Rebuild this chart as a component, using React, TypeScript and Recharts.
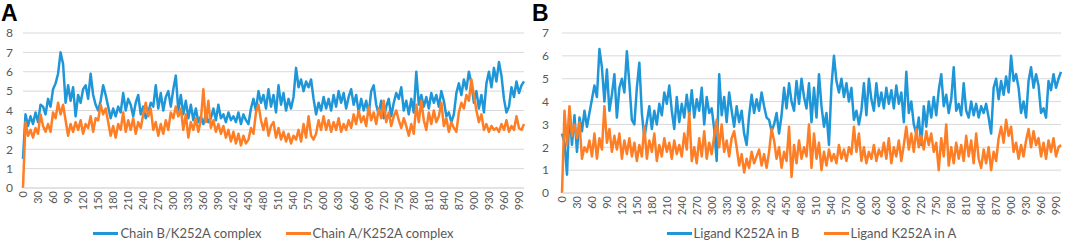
import React from 'react';
import { LineChart, Line, XAxis, YAxis, CartesianGrid } from 'recharts';

// time axis (ns), sampled every 5
const times: number[] = Array.from({ length: 201 }, (_, i) => i * 5);
const xTicks = [0, 30, 60, 90, 120, 150, 180, 210, 240, 270, 300, 330, 360, 390, 420, 450, 480, 510, 540, 570, 600, 630, 660, 690, 720, 750, 780, 810, 840, 870, 900, 930, 960, 990];
const yTicksA = [0, 1, 2, 3, 4, 5, 6, 7, 8];
const yTicksB = [0, 1, 2, 3, 4, 5, 6, 7];

const namesA = ['Chain B/K252A complex', 'Chain A/K252A complex'];
const namesB = ['Ligand K252A in B', 'Ligand K252A in A'];

const chainB = [
  1.5, 3.8, 3.2, 3.7, 3.3, 3.9, 3.4, 4.3, 4.2, 3.8,
  4.6, 4.2, 5.1, 5.4, 5.9, 7.0, 6.4, 4.4, 5.3, 4.5,
  5.2, 3.7, 4.8, 4.4, 5.1, 5.3, 4.6, 5.9, 4.8, 4.3,
  4.0, 4.5, 5.3, 4.8, 4.2, 3.6, 4.1, 3.7, 4.2, 3.9,
  4.9, 4.0, 4.6, 4.3, 3.7, 4.4, 4.8, 3.8, 4.2, 3.6,
  3.9, 4.4, 4.2, 5.3, 4.1, 4.9, 4.0, 4.7, 5.0, 4.2,
  5.1, 5.8, 4.0, 4.8, 3.8, 4.5, 3.6, 4.3, 3.5, 4.1,
  3.4, 3.7, 3.3, 3.8, 3.4, 3.6, 4.1, 3.5, 4.3, 3.6,
  3.8, 3.4, 3.9, 3.5, 3.7, 3.4, 3.9, 3.3, 3.8, 3.5,
  3.3, 4.1, 4.6, 4.0, 5.0, 4.4, 4.8, 4.1, 5.1, 4.2,
  4.8, 3.9, 5.3, 4.3, 4.9, 4.0, 4.6, 4.1, 4.7, 6.2,
  5.2, 5.6, 5.0, 5.5, 5.2, 5.6, 4.6, 3.8, 4.4, 4.0,
  4.7, 4.1, 4.6, 4.0, 4.8, 4.2, 5.0, 4.4, 4.9, 4.1,
  4.7, 5.1, 4.3, 4.8, 3.9, 4.6, 4.0, 4.5, 3.8, 5.0,
  5.3, 4.3, 3.8, 4.5, 3.6, 4.2, 4.6, 3.7, 4.4, 4.9,
  4.6, 5.2, 4.0, 4.5, 3.8, 4.6, 3.9, 6.0, 4.3, 4.8,
  4.2, 4.7, 4.1, 4.9, 4.4, 4.8, 4.2, 5.0, 4.5, 3.7,
  3.9, 3.4, 3.8, 4.9, 5.4, 4.8, 5.6, 5.1, 6.0, 5.4,
  4.4, 5.0, 4.1, 4.8, 3.9, 5.4, 6.0, 5.2, 6.2, 5.5,
  6.5, 5.8, 4.6, 3.9, 4.2, 5.2, 4.7, 5.5, 4.9, 5.3,
  5.5,
];

const chainA = [
  0, 3.4, 2.7, 3.0, 2.6, 3.1, 2.8, 3.8, 3.2, 2.9,
  3.3, 2.9, 3.9, 3.6, 4.4, 3.8, 4.3, 3.5, 2.7, 3.3,
  2.9, 3.4, 3.0, 3.5, 2.8, 3.3, 3.1, 3.7, 2.9, 3.6,
  3.5, 4.3, 3.8, 4.1, 3.4, 2.7, 3.2, 2.6, 3.3, 3.0,
  3.9, 2.9, 3.5, 3.0, 3.6, 2.8, 3.4, 3.1, 3.8, 4.4,
  3.7, 4.1, 3.0, 3.4, 2.7, 3.3, 2.8, 3.5, 3.0, 3.9,
  3.6, 4.2, 3.7, 4.1, 3.0, 3.8, 2.6, 3.4, 3.0, 3.6,
  2.9, 3.5, 5.1, 3.4, 4.5, 3.1, 3.5, 2.9, 3.3, 2.8,
  3.2, 2.6, 3.0, 2.4, 2.9, 2.3, 2.8, 2.2, 2.7, 2.3,
  2.5, 3.1, 2.8, 3.9, 4.3, 3.5, 3.0, 3.6, 2.7, 3.2,
  3.4, 2.6, 3.1, 2.5, 2.9, 2.4, 2.8, 2.3, 2.7, 2.5,
  3.0, 2.4, 3.3, 2.6, 3.7, 2.7, 2.5, 2.8, 3.5, 3.0,
  3.7, 3.0, 3.5, 2.9, 3.4, 3.0, 3.6, 2.9, 3.3, 3.0,
  3.5, 3.1, 3.8, 3.3, 4.0, 3.4, 3.7, 3.2, 4.2, 3.5,
  3.9, 3.3, 4.1, 3.6, 4.5, 3.4, 3.9, 3.2, 3.7, 4.0,
  3.5, 3.1, 3.6, 3.2, 2.7, 3.3, 2.8, 4.3, 3.4, 4.5,
  3.5, 3.0, 3.9, 3.3, 4.0, 3.4, 3.7, 4.4, 3.2, 3.6,
  2.9, 3.4, 3.1, 2.9, 3.9, 4.4, 4.1, 4.8, 4.5, 5.6,
  4.8, 4.0, 3.4, 3.8, 3.0, 3.3, 2.9, 3.2, 3.0, 3.1,
  2.9, 3.3, 3.0, 3.5, 2.9, 3.2, 3.0, 3.7, 3.1, 3.0,
  3.3,
];

const ligandB = [
  2.6, 2.2, 0.8, 3.6, 2.1, 3.4, 1.8, 3.3, 2.7, 3.6,
  2.9, 3.5, 4.1, 4.7, 4.2, 6.3, 5.5, 4.0, 5.4, 3.6,
  4.3, 5.2, 3.3, 4.6, 5.0, 4.4, 6.2, 4.8, 3.2, 3.0,
  4.6, 5.7, 3.5, 2.4, 3.1, 3.8, 2.8, 3.6, 3.0, 3.9,
  3.4, 4.4, 3.9, 4.7, 3.6, 2.8, 4.2, 3.1, 3.9, 3.3,
  4.3, 3.4, 4.5, 3.3, 4.1, 3.6, 4.6, 3.0, 4.2, 3.5,
  3.7, 2.8, 1.4, 5.2, 3.4, 4.2, 3.1, 4.4, 3.6, 2.9,
  3.8, 3.1, 3.6, 2.6, 2.1, 3.4, 4.3, 3.5, 4.1, 3.6,
  4.4, 3.8, 3.3, 3.2, 2.7, 3.0, 3.5, 2.6, 3.4, 4.6,
  3.7, 4.8, 4.0, 3.6, 4.9, 3.9, 5.0, 4.2, 3.7, 4.8,
  3.1, 4.6, 3.3, 5.2, 3.8, 2.9, 3.5, 2.1, 4.7, 6.0,
  4.9, 4.4, 5.0, 4.2, 4.8, 4.0, 4.6, 3.2, 3.6, 3.0,
  3.6, 4.8, 3.4, 5.0, 4.1, 3.6, 4.8, 3.8, 4.4, 3.7,
  4.6, 3.9, 4.5, 3.7, 4.7, 3.9, 4.4, 3.1, 5.3, 3.5,
  4.0, 3.0, 2.6, 3.3, 2.1, 3.8, 2.9, 4.0, 3.3, 4.2,
  3.4, 4.5, 5.2, 3.8, 4.3, 3.5, 4.1, 5.5, 3.6, 3.9,
  3.4, 4.8, 3.6, 3.3, 4.0, 3.4, 3.9, 3.3, 3.8, 3.5,
  3.9, 3.3, 2.6, 4.6, 5.0, 4.1, 4.9, 4.3, 5.1, 4.4,
  6.0, 4.9, 5.2, 4.6, 3.5, 4.0, 3.3, 4.9, 5.5, 4.6,
  5.2, 4.7, 3.5, 3.7, 3.3, 4.9, 4.5, 5.2, 4.6, 5.0,
  5.3,
];

const ligandA = [
  0, 3.6, 2.1, 3.8, 2.5, 3.0, 2.4, 3.1, 1.5, 2.0,
  1.8, 2.3, 1.6, 2.6, 1.5, 2.4, 1.9, 3.8, 2.2, 2.8,
  1.8, 2.5, 1.9, 2.6, 1.5, 2.3, 1.7, 2.4, 1.6, 2.2,
  1.4, 2.1, 1.6, 2.9, 1.5, 2.3, 1.8, 2.6, 1.4, 2.1,
  1.6, 2.4, 1.8, 2.2, 1.5, 2.3, 1.7, 2.1, 1.6, 2.6,
  1.9, 3.5, 1.4, 2.0, 1.3, 2.4, 1.6, 2.7, 1.5, 2.2,
  1.7, 2.5, 3.2, 2.0, 3.0, 1.8, 2.3, 1.6, 2.4, 2.7,
  2.0, 1.2, 1.7, 0.9, 1.5, 1.1, 1.8, 1.3, 1.6, 1.9,
  1.2, 1.7, 1.1, 1.8, 2.8, 2.3, 1.5, 2.0, 1.1, 1.8,
  1.4, 2.9, 0.7, 2.1, 1.3, 2.3, 1.5, 2.0, 1.6, 3.0,
  1.1, 2.6, 1.5, 2.2, 1.0, 1.8, 1.2, 1.9, 1.4, 1.7,
  1.3, 2.1, 1.5, 1.9, 1.4, 2.0, 1.7, 2.9, 1.8, 2.6,
  1.4, 2.0, 1.3, 1.8, 1.5, 2.1, 1.4, 1.9, 1.6, 2.2,
  1.5, 2.4, 1.3, 2.0, 1.6, 2.3, 1.4, 2.1, 2.9, 1.9,
  2.6, 1.8, 2.8, 2.0, 2.5, 1.9, 2.7, 2.1, 2.6, 1.8,
  2.2, 1.0, 2.4, 1.6, 3.0, 1.2, 2.0, 1.3, 2.2, 1.5,
  2.1, 1.4, 2.5, 1.6, 2.3, 1.3, 2.6, 1.5, 1.1, 1.9,
  1.3, 2.0, 1.0, 1.8, 1.4, 2.4, 2.9, 2.2, 3.2, 2.5,
  2.9, 1.8, 2.2, 1.5, 2.1, 1.6, 2.3, 2.8, 2.0, 2.7,
  2.1, 2.4, 1.6, 2.2, 1.5, 2.3, 1.8, 2.4, 1.6, 2.0,
  2.1,
];

const BLUE = '#1f96d8';
const ORANGE = '#fd7e25';
const TEXT = '#595959';
const GRID = '#d9d9d9';
const FONT = 'Lato, "Noto Sans", sans-serif';

const dataA = times.map((t, i) => ({ t, b: chainB[i], a: chainA[i] }));
const dataB = times.map((t, i) => ({ t, b: ligandB[i], a: ligandA[i] }));

const RotTick = ({ x, y, payload }: any) => (
  <text
    x={x}
    y={y}
    transform={`rotate(-90, ${x}, ${y})`}
    textAnchor="end"
    dy="0.35em"
    fill={TEXT}
    fontSize={11}
    fontFamily={FONT}
  >
    {payload.value}
  </text>
);

const LegendRow = ({ names, left, width }: { names: string[]; left: number; width: number }) => (
  <div
    style={{
      position: 'absolute',
      left,
      width,
      top: 225,
      display: 'flex',
      justifyContent: 'center',
      gap: 24,
      fontFamily: FONT,
      fontSize: 13,
      color: TEXT,
    }}
  >
    {names.map((n, i) => (
      <div key={n} style={{ display: 'flex', alignItems: 'center' }}>
        <span style={{ display: 'inline-block', width: 25, height: 3, background: i === 0 ? BLUE : ORANGE, marginRight: 2 }} />
        <span>{n}</span>
      </div>
    ))}
  </div>
);

const Panel = ({ data, yTicks, yMax, names, width, yAxisWidth, tickMargin, xAxisHeight, right }: any) => (
  <LineChart width={width} height={246} data={data} margin={{ top: 33, right, left: 0, bottom: 0 }}>
    <CartesianGrid vertical={false} stroke={GRID} strokeWidth={1} />
    <XAxis
      dataKey="t"
      ticks={xTicks}
      interval={0}
      height={xAxisHeight}
      tick={<RotTick />}
      tickLine={false}
      tickSize={0}
      tickMargin={3}
      axisLine={{ stroke: GRID }}
    />
    <YAxis
      domain={[0, yMax]}
      ticks={yTicks}
      interval={0}
      width={yAxisWidth}
      axisLine={false}
      tickLine={false}
      tickSize={0}
      tickMargin={tickMargin}
      tick={{ fill: TEXT, fontSize: 12, fontFamily: FONT }}
    />
    <Line type="linear" dataKey="b" name={names[0]} stroke={BLUE} strokeWidth={2.5} strokeLinejoin="round" dot={false} isAnimationActive={false} />
    <Line type="linear" dataKey="a" name={names[1]} stroke={ORANGE} strokeWidth={2.5} strokeLinejoin="round" dot={false} isAnimationActive={false} />
  </LineChart>
);

const titleStyle: React.CSSProperties = {
  position: 'absolute',
  top: 2,
  fontFamily: '"Liberation Sans", Arial, sans-serif',
  fontWeight: 700,
  fontSize: 23,
  lineHeight: 1,
};

const App = () => (
  <div style={{ position: 'absolute', left: 0, top: 0, width: 1065, height: 246, background: '#fff', overflow: 'hidden' }}>
    <div style={{ position: 'absolute', left: 0, top: 0 }}>
      <Panel data={dataA} yTicks={yTicksA} yMax={8} names={namesA} width={530} yAxisWidth={23} tickMargin={10} xAxisHeight={58} right={6} />
    </div>
    <div style={{ position: 'absolute', left: 530, top: 0 }}>
      <Panel data={dataB} yTicks={yTicksB} yMax={7} names={namesB} width={535} yAxisWidth={32} tickMargin={13} xAxisHeight={53} right={4} />
    </div>
    <LegendRow names={namesA} left={23} width={501} />
    <LegendRow names={namesB} left={562} width={499} />
    <div style={{ ...titleStyle, left: 1 }}>A</div>
    <div style={{ ...titleStyle, left: 532 }}>B</div>
  </div>
);

export default App;
